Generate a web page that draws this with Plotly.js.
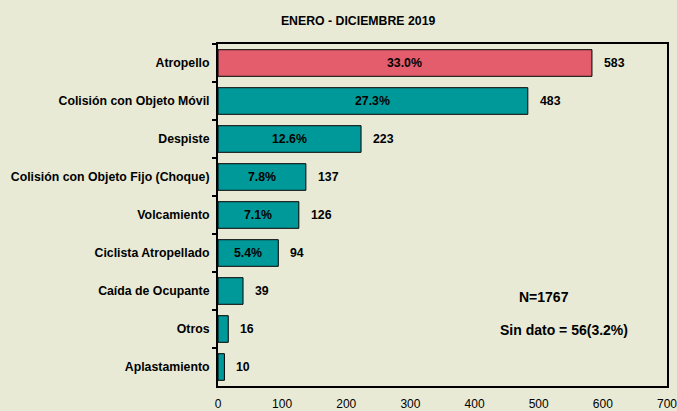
<!DOCTYPE html>
<html>
<head>
<meta charset="utf-8">
<script src="https://cdn.plot.ly/plotly-3.0.1.min.js"></script>
<style>html,body{margin:0;padding:0;background:#E8EAD6;}</style>
</head>
<body>
<div id="chart" style="width:677px;height:411px;"></div>
<script>
const categories = ["Atropello","Colisión con Objeto Móvil","Despiste","Colisión con Objeto Fijo (Choque)","Volcamiento","Ciclista Atropellado","Caída de Ocupante","Otros","Aplastamiento"];
const counts = [583, 483, 223, 137, 126, 94, 39, 16, 10];
const percents = ["33.0%","27.3%","12.6%","7.8%","7.1%","5.4%","","",""];
const barColors = ["#E35D6C","#009999","#009999","#009999","#009999","#009999","#009999","#009999","#009999"];
const xTicks = [0,100,200,300,400,500,600,700];

const font = "Liberation Sans, Arial, sans-serif";

const trace = {
  type: "bar",
  orientation: "h",
  y: categories,
  x: counts,
  width: 0.7,
  marker: {color: barColors, line: {color: "#000000", width: 1}},
  hoverinfo: "none"
};

const annotations = [];
categories.forEach((c, i) => {
  annotations.push({
    x: counts[i], y: c, xref: "x", yref: "y",
    text: "<b>" + counts[i] + "</b>", showarrow: false,
    xanchor: "left", xshift: 10,
    font: {family: font, size: 12.3, color: "#000"}
  });
  if (percents[i]) {
    annotations.push({
      x: counts[i] / 2, y: c, xref: "x", yref: "y",
      text: "<b>" + percents[i] + "</b>", showarrow: false,
      xanchor: "center",
      font: {family: font, size: 12.3, color: "#000"}
    });
  }
});
annotations.push({
  xref: "paper", yref: "paper", x: 0.726, y: 0.26,
  text: "<b>N=1767</b>", showarrow: false, xanchor: "center", yanchor: "middle",
  font: {family: font, size: 14, color: "#000"}
});
annotations.push({
  xref: "paper", yref: "paper", x: 0.77, y: 0.164,
  text: "<b>Sin dato = 56(3.2%)</b>", showarrow: false, xanchor: "center", yanchor: "middle",
  font: {family: font, size: 14, color: "#000"}
});

const layout = {
  width: 677, height: 411,
  paper_bgcolor: "#E8EAD6",
  plot_bgcolor: "#E8EAD6",
  margin: {l: 218, r: 10, t: 44, b: 25},
  title: {
    text: "<b>ENERO - DICIEMBRE 2019</b>",
    x: 0.529, xref: "container", xanchor: "center",
    y: 0.96, yref: "container",
    font: {family: font, size: 12.3, color: "#000"}
  },
  showlegend: false,
  bargap: 0.3,
  xaxis: {
    range: [0, 700.01],
    tickvals: xTicks,
    showgrid: false,
    zeroline: false,
    showline: true, linecolor: "#000", linewidth: 2,
    mirror: true,
    ticks: "",
    ticklabelstandoff: 6,
    ticklabeloverflow: "allow",
    tickfont: {family: font, size: 12, color: "#000"}
  },
  yaxis: {
    autorange: "reversed",
    type: "category",
    showgrid: false,
    zeroline: false,
    showline: true, linecolor: "#000", linewidth: 2,
    mirror: true,
    ticks: "outside", ticklen: 4, tickwidth: 2, tickcolor: "#000",
    tickson: "boundaries",
    ticklabelstandoff: 4,
    tickfont: {family: font, size: 12.3, color: "#000", weight: "bold"}
  },
  annotations: annotations
};

Plotly.newPlot("chart", [trace], layout, {displayModeBar: false, staticPlot: true});
</script>
</body>
</html>
